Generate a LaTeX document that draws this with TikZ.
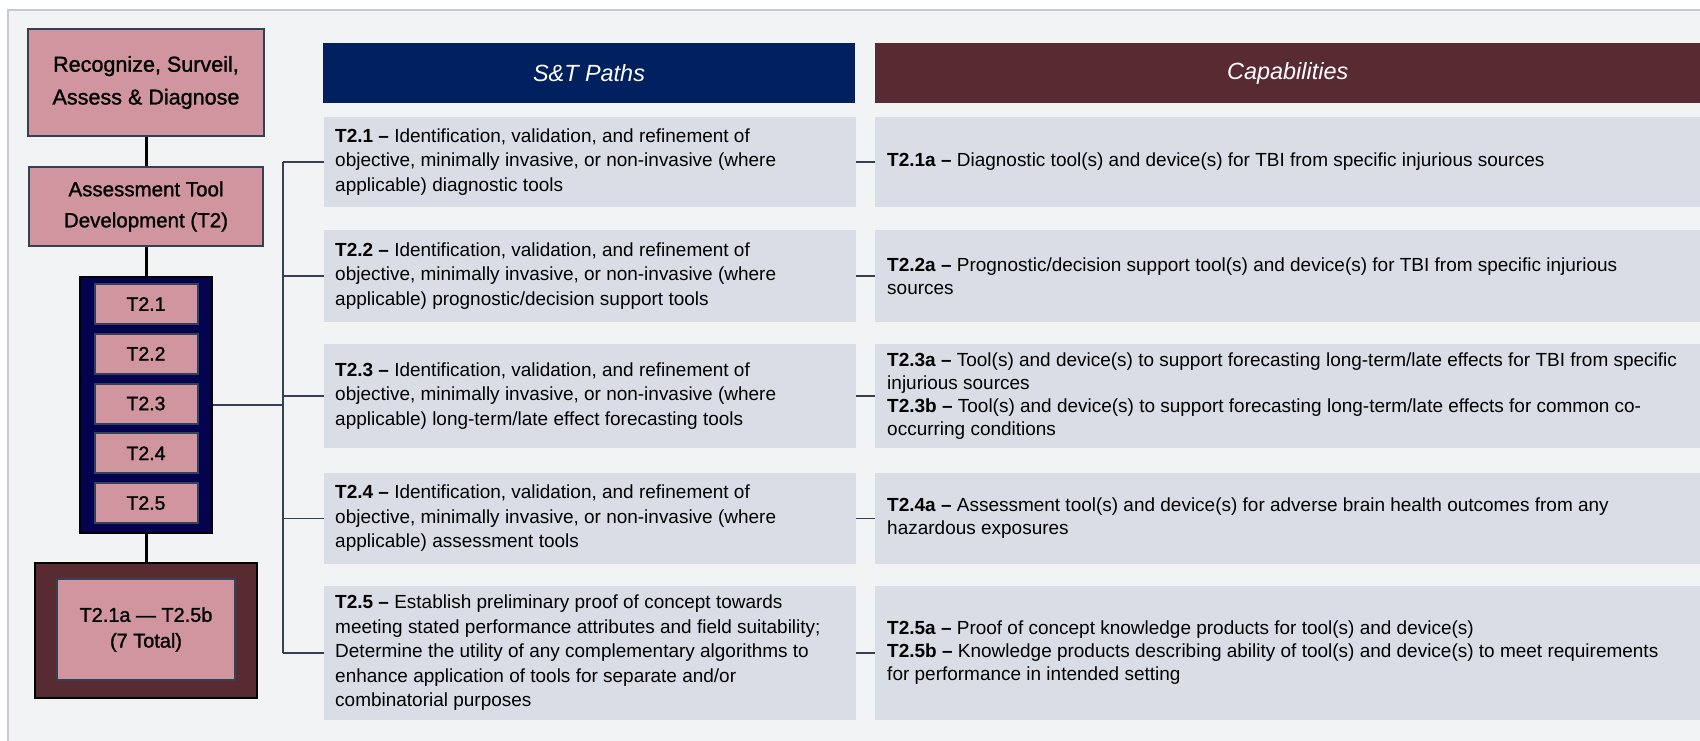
\documentclass[tikz,border=0pt]{standalone}
\usepackage{fontspec}
\setmainfont{Liberation Sans}
\newfontfamily\mediumfont[FakeBold=1.2]{Liberation Sans}
\usetikzlibrary{
positioning,
calc
}
\definecolor{PathNavy}{HTML}{002060}
\definecolor{CapMaroon}{HTML}{582A31}
\definecolor{RowGray}{HTML}{D9DDE5}
\definecolor{PanelGray}{HTML}{F2F3F5}
\definecolor{PanelEdge}{HTML}{C5CAD6}
\definecolor{RosePink}{HTML}{D1959F}
\definecolor{GroupNavy}{HTML}{03034F}
\definecolor{SlateLine}{HTML}{344054}

\tikzset{
    pinkbox/.style={
        draw=SlateLine,
        fill=RosePink,
        line width=0.6mm,
        align=center,
        inner sep=0pt
    },
    headbox/.style={
        font=\itshape\fontsize{20}{24}\selectfont,
        text=white,
        minimum height=18mm,
        inner sep=0pt
    },
    rowbox/.style={
        fill=RowGray,
        anchor=west,
        inner sep=0pt
    },
    rowtext/.style={
        anchor=west,
        align=left,
        inner sep=0pt,
        font=\fontsize{16.2}{20.9}\selectfont
    },
    captext/.style={
        rowtext,
        font=\fontsize{16.2}{19.6}\selectfont
    },
    stem/.style={
        black,
        line width=0.9mm
    },
    link/.style={
        SlateLine,
        line width=0.45mm
    }
}

\begin{document}
\begin{tikzpicture}[
    x=0.3mm,
    y=-0.3mm
]

% =====================================================
% BACKGROUND PANEL
% =====================================================
\useasboundingbox (0,0) rectangle (1700,740);
\clip (0,0) rectangle (1700,740);

\fill[PanelGray] (8,10) rectangle (1720,760);
\draw[PanelEdge, line width=0.6mm] (8,760) -- (8,10) -- (1720,10);

% =====================================================
% LEFT COLUMN
% =====================================================
\node[
    pinkbox,
    minimum width=70.8mm,
    minimum height=32.1mm,
    font=\mediumfont\fontsize{18.4}{28}\selectfont
]
(rsad)
at (146,82.5)
{Recognize, Surveil,\\Assess \& Diagnose};

\node[
    pinkbox,
    minimum width=70.2mm,
    minimum height=23.7mm,
    font=\mediumfont\fontsize{17.5}{26.5}\selectfont
]
(atd)
at (146,206.5)
{Assessment Tool\\Development (T2)};

\node[
    draw=black,
    fill=GroupNavy,
    line width=0.6mm,
    minimum width=39.6mm,
    minimum height=76.8mm,
    inner sep=0pt
]
(grp)
at (146,405)
{};

\foreach \n in {1,...,5}{
    \node[
        pinkbox,
        minimum width=30.9mm,
        minimum height=12mm,
        font=\mediumfont\fontsize{16.6}{20}\selectfont
    ]
    (sub\n)
    at (146,{304+49.75*(\n-1)})
    {T2.\n};
}

\node[
    draw=black,
    fill=CapMaroon,
    line width=0.6mm,
    minimum width=66.6mm,
    minimum height=40.5mm,
    inner sep=0pt
]
(tot)
at (146,630.5)
{};

\node[
    pinkbox,
    minimum width=53.4mm,
    minimum height=30.3mm,
    font=\mediumfont\fontsize{17}{22}\selectfont
]
(totin)
at (146,629.5)
{T2.1a — T2.5b\\(7 Total)};

% stems
\draw[stem] (rsad.south) -- (atd.north);
\draw[stem] (atd.south) -- (grp.north);
\draw[stem] (grp.south) -- (tot.north);

% =====================================================
% HEADERS
% =====================================================
\node[
    headbox,
    fill=PathNavy,
    minimum width=159.6mm
]
(pathhead)
at (589,73)
{S\&T Paths};

\node[
    headbox,
    fill=CapMaroon,
    anchor=west,
    minimum width=247.5mm
]
(caphead)
at (875,73)
{Capabilities};

% =====================================================
% ROW BOXES
% =====================================================
\foreach \n/\yc/\h in {
1/162/90,
2/276/92,
3/396/104,
4/518.5/91,
5/653/134
}{
    \node[
        rowbox,
        minimum width=159.6mm,
        minimum height=\h*0.3mm
    ]
    (path\n)
    at (324,\yc)
    {};

    \node[
        rowbox,
        minimum width=247.5mm,
        minimum height=\h*0.3mm
    ]
    (cap\n)
    at (875,\yc)
    {};
}

% =====================================================
% S&T PATH TEXTS
% =====================================================
\node[rowtext] (ptext1) at ([xshift=3.3mm]path1.west)
{\textbf{T2.1 –} Identification, validation, and refinement of\\objective, minimally invasive, or non-invasive (where\\applicable) diagnostic tools};

\node[rowtext] (ptext2) at ([xshift=3.3mm]path2.west)
{\textbf{T2.2 –} Identification, validation, and refinement of\\objective, minimally invasive, or non-invasive (where\\applicable) prognostic/decision support tools};

\node[rowtext] (ptext3) at ([xshift=3.3mm]path3.west)
{\textbf{T2.3 –} Identification, validation, and refinement of\\objective, minimally invasive, or non-invasive (where\\applicable) long-term/late effect forecasting tools};

\node[rowtext] (ptext4) at ([xshift=3.3mm]path4.west)
{\textbf{T2.4 –} Identification, validation, and refinement of\\objective, minimally invasive, or non-invasive (where\\applicable) assessment tools};

\node[rowtext] (ptext5) at ([xshift=3.3mm]path5.west)
{\textbf{T2.5 –} Establish preliminary proof of concept towards\\meeting stated performance attributes and field suitability;\\Determine the utility of any complementary algorithms to\\enhance application of tools for separate and/or\\combinatorial purposes};

% =====================================================
% CAPABILITY TEXTS
% =====================================================
\node[captext] (ctext1) at ([xshift=3.6mm]cap1.west)
{\textbf{T2.1a –} Diagnostic tool(s) and device(s) for TBI from specific injurious sources};

\node[captext] (ctext2) at ([xshift=3.6mm]cap2.west)
{\textbf{T2.2a –} Prognostic/decision support tool(s) and device(s) for TBI from specific injurious\\sources};

\node[captext] (ctext3) at ([xshift=3.6mm]cap3.west)
{\textbf{T2.3a –} Tool(s) and device(s) to support forecasting long-term/late effects for TBI from specific\\injurious sources\\\textbf{T2.3b –} Tool(s) and device(s) to support forecasting long-term/late effects for common co-\\occurring conditions};

\node[captext] (ctext4) at ([xshift=3.6mm]cap4.west)
{\textbf{T2.4a –} Assessment tool(s) and device(s) for adverse brain health outcomes from any\\hazardous exposures};

\node[captext] (ctext5) at ([xshift=3.6mm]cap5.west)
{\textbf{T2.5a –} Proof of concept knowledge products for tool(s) and device(s)\\\textbf{T2.5b –} Knowledge products describing ability of tool(s) and device(s) to meet requirements\\for performance in intended setting};

% =====================================================
% CONNECTORS
% =====================================================
\coordinate (brk) at (283,405);

\draw[link] (grp.east) -- (brk);
\draw[link] (path1.west -| brk) -- (path5.west -| brk);

\foreach \n in {1,...,5}{
    \draw[link] (path\n.west -| brk) -- (path\n.west);
    \draw[link] (path\n.east) -- (cap\n.west);
}

\end{tikzpicture}
\end{document}
